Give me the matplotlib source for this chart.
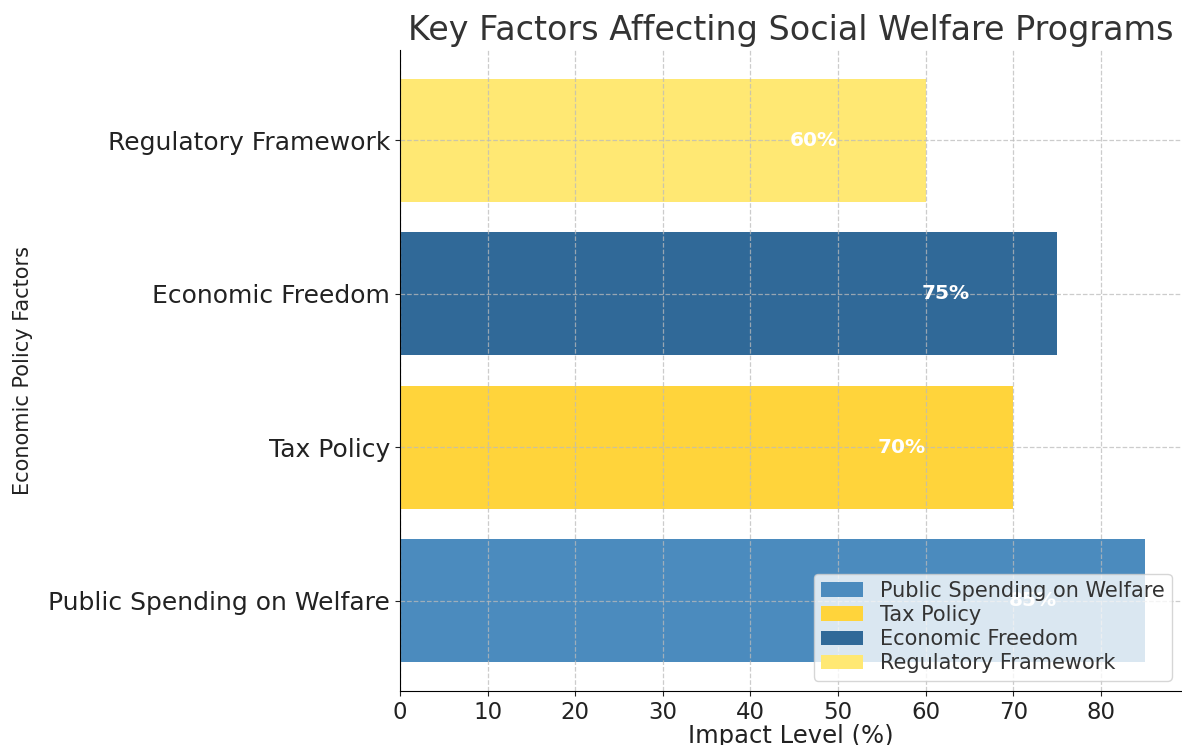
import matplotlib
matplotlib.use("Agg")
import matplotlib.pyplot as plt

factors = ["Public Spending on Welfare", "Tax Policy", "Economic Freedom", "Regulatory Framework"]
impact = [85, 70, 75, 60]
colors = ["#4B8BBE", "#FFD43B", "#306998", "#FFE873"]

plt.rcParams["font.family"] = ["DejaVu Sans"]

fig = plt.figure(figsize=(11.82, 7.45), dpi=100)
ax = fig.add_axes([400 / 1182, 54 / 745, 782 / 1182, 641 / 745])

bars = ax.barh(factors, impact, color=colors, label=factors, zorder=1)
ax.set_xlim(0, 89.25)

for bar, val in zip(bars, impact):
    ax.text(val - 10, bar.get_y() + bar.get_height() / 2, f"{val}%",
            ha="right", va="center", color="white", fontsize=14.5,
            fontweight="bold", zorder=3)

ax.set_title("Key Factors Affecting Social Welfare Programs", fontsize=24,
             color="#333333", pad=7.5)
ax.set_xlabel("Impact Level (%)", fontsize=17.5, color="#222222", labelpad=0)
ax.set_ylabel("Economic Policy Factors", fontsize=15, color="#222222")
ax.yaxis.set_label_coords(-0.469, 0.5)
ax.tick_params(axis="y", labelsize=18, colors="#222222")
ax.tick_params(axis="x", labelsize=16.5, colors="#222222")

# dashed grid drawn over the bars, spines kept on top
ax.grid(True, linestyle="--", color="#bbbbbb", linewidth=0.9, alpha=0.75, zorder=2)
ax.set_axisbelow(False)
for s in ("top", "right"):
    ax.spines[s].set_visible(False)
for s in ("left", "bottom"):
    ax.spines[s].set_zorder(4)

leg = ax.legend(loc="lower right", fontsize=15, framealpha=0.8,
                labelspacing=0.2, borderpad=0.35, labelcolor="#333333")
leg.set_zorder(5)

fig.savefig("out.png", dpi=100)
